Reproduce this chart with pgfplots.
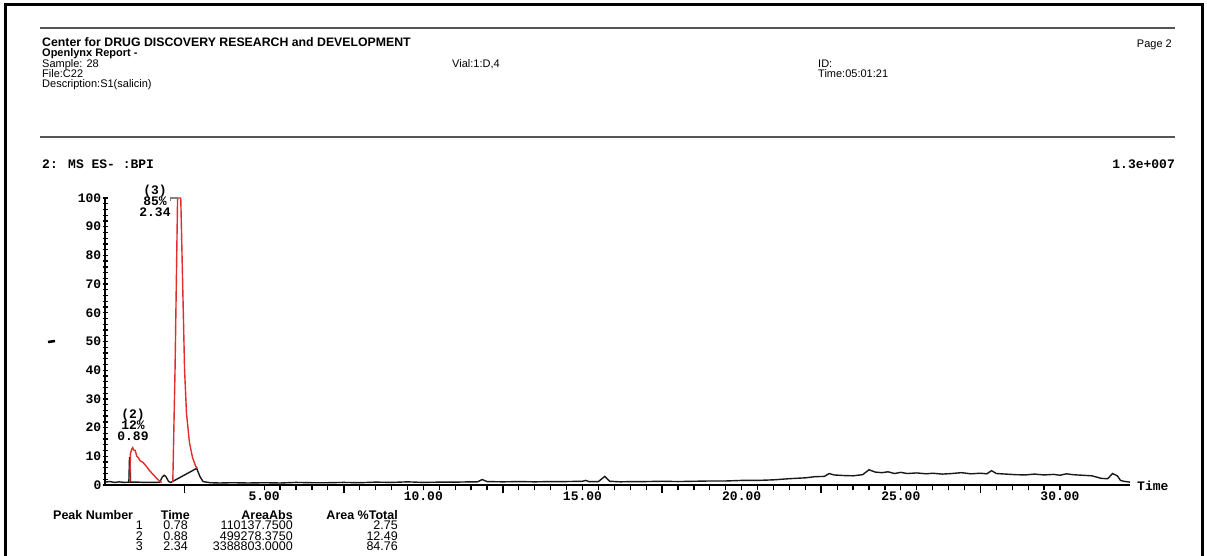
\documentclass[border=0pt]{standalone}
\usepackage{pgfplots}
\pgfplotsset{compat=1.18}
\usepackage{fontspec}
\setmainfont{Liberation Sans}
\newfontfamily\mono{Liberation Mono}
\definecolor{trace}{RGB}{25,25,25}
\definecolor{peakred}{RGB}{225,45,45}
\definecolor{rulegray}{RGB}{85,85,85}
\newcommand\mfont{\mono\bfseries\fontsize{13}{12}\selectfont}
\newcommand\hfont{\fontsize{11}{11}\selectfont}
\newcommand\tfont{\fontsize{12.5}{12}\selectfont}
\newcommand\tbfont{\bfseries\fontsize{12.5}{12}\selectfont}
\begin{document}
\begin{tikzpicture}
\path[use as bounding box] (0,0) rectangle (1207pt,-556pt);
\fill[white] (0,0) rectangle (1207pt,-556pt);
\draw[line width=3pt] (5pt,-556pt) -- (5pt,-5pt) -- (1202pt,-5pt) -- (1202pt,-556pt);
\draw[rulegray, line width=1.5pt] (40pt,-28pt) -- (1175pt,-28pt);
\draw[rulegray, line width=1.5pt] (40pt,-137pt) -- (1175pt,-137pt);
% header
\node[anchor=base west, inner sep=0, font=\bfseries\fontsize{12.3}{12}\selectfont] at (42pt,-46.5pt) {Center for DRUG DISCOVERY RESEARCH and DEVELOPMENT};
\node[anchor=base west, inner sep=0, font=\bfseries\hfont] at (42pt,-57pt) {Openlynx Report -};
\node[anchor=base west, inner sep=0, font=\hfont] at (42pt,-68pt) {Sample: 28};
\node[anchor=base west, inner sep=0, font=\hfont] at (42pt,-78pt) {File:C22};
\node[anchor=base west, inner sep=0, font=\hfont] at (42pt,-88pt) {Description:S1(salicin)};
\node[anchor=base west, inner sep=0, font=\hfont] at (452pt,-68pt) {Vial:1:D,4};
\node[anchor=base west, inner sep=0, font=\hfont] at (818pt,-68pt) {ID:};
\node[anchor=base west, inner sep=0, font=\hfont] at (818pt,-78pt) {Time:05:01:21};
\node[anchor=base east, inner sep=0, font=\hfont] at (1172pt,-48pt) {Page 2};
% chart header
\node[anchor=base west, inner sep=0, font=\mfont] at (42pt,-168.7pt) {2: MS ES- :BPI};
\node[anchor=base east, inner sep=0, font=\mfont] at (1175pt,-168.7pt) {1.3e+007};
\draw[line width=2.5pt] (48pt,-342pt) -- (55pt,-341pt);
\begin{axis}[
  at={(105pt,-485pt)}, anchor=south west,
  scale only axis, width=1025pt, height=287pt,
  xmin=0, xmax=32.2, ymin=0, ymax=100,
  clip=false,
  axis lines=left,
  axis line style={-, line width=1.8pt, black},
  /pgf/number format/assume math mode=true,
  xtick={5,10,15,20,25,30},
  xticklabels={5.00,10.00,15.00,20.00,25.00,30.00},
  minor x tick num=9,
  extra x ticks={2.5,7.5,12.5,17.5,22.5,27.5},
  extra x tick labels={},
  extra x tick style={x tick style={line width=1.8pt}, tick align=outside, major tick length=8pt},
  x tick style={line width=1.3pt, black},
  xtick align=outside,
  ytick={0,10,...,100},
  yticklabels={0,10,20,30,40,50,60,70,80,90,100},
  minor y tick num=4,
  y tick style={line width=1.3pt, black},
  ytick align=center,
  major tick length=5pt,
  minor tick length=5pt,
  tick label style={font=\mfont},
  yticklabel style={inner sep=1pt},
  xticklabel style={inner sep=2pt},
]
\addplot[trace, line width=1.4pt] coordinates {
(0,1.0)(0.15,1.2)(0.3,0.9)(0.45,1.1)(0.6,0.9)(0.75,1.0)(0.77,9.5)(0.79,9.5)(0.80,1.0)
(1.0,1.0)(1.3,0.9)(1.6,0.9)(1.72,1.0)(1.80,2.8)(1.86,3.4)(1.92,2.8)(2.0,1.2)(2.07,0.9)
(2.88,5.8)(2.98,3.0)(3.08,1.2)(3.3,0.8)(3.6,0.7)(4,0.8)(4.5,0.7)(5,0.8)(5.5,0.7)(6,0.9)
(6.5,0.8)(7,0.8)(7.5,0.9)(8,0.8)(8.5,1.0)(9,0.9)(9.5,1.1)(10,0.9)(10.5,1.0)(11,1.0)
(11.5,1.1)(11.7,1.1)(11.85,1.9)(12.0,1.2)(12.5,1.1)(13,1.2)(13.5,1.1)(14,1.2)(14.5,1.2)
(15,1.3)(15.1,1.6)(15.2,1.2)(15.5,1.2)(15.7,3.0)(15.85,1.3)(16.2,1.1)(16.5,1.2)(17,1.2)
(17.5,1.3)(18,1.2)(18.5,1.3)(19,1.4)(19.5,1.4)(20,1.6)(20.5,1.6)(21,1.8)(21.5,2.2)
(22,2.5)(22.3,2.9)(22.6,3.0)(22.75,4.0)(22.9,3.5)(23.2,3.3)(23.5,3.2)(23.8,3.6)(24.0,5.3)
(24.2,4.5)(24.4,4.3)(24.6,4.6)(24.8,4.0)(25.0,4.4)(25.2,4.0)(25.5,4.2)(25.8,3.9)(26.0,4.1)
(26.3,3.8)(26.6,4.0)(26.9,4.3)(27.2,3.9)(27.5,4.1)(27.7,3.9)(27.85,5.0)(28.0,4.0)(28.3,3.8)
(28.6,3.6)(28.9,3.5)(29.2,3.8)(29.5,3.5)(29.8,3.7)(30.0,3.4)(30.2,3.9)(30.4,3.6)(30.7,3.4)
(31.0,3.2)(31.3,2.3)(31.5,2.2)(31.65,4.0)(31.8,3.2)(31.9,1.6)(32.0,1.3)(32.2,1.0)
};
\addplot[peakred, line width=1.4pt] coordinates {
(0.78,1)(0.80,11)(0.84,12.5)(0.87,13)(0.9,12.2)(0.95,12)(1.0,10)(1.05,9.5)(1.1,8.5)
(1.2,7.8)(1.3,6.5)(1.4,5)(1.5,3.8)(1.6,2.6)(1.7,1.5)(1.78,0.9)
};
\addplot[peakred, line width=1.4pt] coordinates {
(2.13,1)(2.2,40)(2.28,100)(2.38,100)(2.44,70)(2.5,40)(2.56,25)(2.65,15)(2.75,9.5)(2.85,6.5)(2.9,5.8)
};
\addplot[gray, line width=1.2pt] coordinates {(2.05,99)(2.05,100)(2.3,100)};
\end{axis}
\node[anchor=west, inner sep=0, font=\mfont] at (1137pt,-486pt) {Time};
% annotations
\node[anchor=base, inner sep=0, font=\mfont] at (155pt,-194.7pt) {(3)};
\node[anchor=base, inner sep=0, font=\mfont] at (155pt,-205.7pt) {85\%};
\node[anchor=base, inner sep=0, font=\mfont] at (155pt,-216.7pt) {2.34};
\node[anchor=base, inner sep=0, font=\mfont] at (133pt,-418.7pt) {(2)};
\node[anchor=base, inner sep=0, font=\mfont] at (133pt,-429.7pt) {12\%};
\node[anchor=base, inner sep=0, font=\mfont] at (133pt,-440.7pt) {0.89};
% table
\node[anchor=base west, inner sep=0, font=\tbfont] at (53pt,-519pt) {Peak Number};
\node[anchor=base east, inner sep=0, font=\tbfont] at (190pt,-519pt) {Time};
\node[anchor=base east, inner sep=0, font=\tbfont] at (293pt,-519pt) {AreaAbs};
\node[anchor=base east, inner sep=0, font=\tbfont] at (398pt,-519pt) {Area \%Total};
\foreach \n/\t/\a/\p/\yy in {1/0.78/110137.7500/2.75/529.5, 2/0.88/499278.3750/12.49/540, 3/2.34/3388803.0000/84.76/550.5}{
  \node[anchor=base east, inner sep=0, font=\tfont] at (143pt,-\yy pt) {\n};
  \node[anchor=base east, inner sep=0, font=\tfont] at (188pt,-\yy pt) {\t};
  \node[anchor=base east, inner sep=0, font=\tfont] at (293pt,-\yy pt) {\a};
  \node[anchor=base east, inner sep=0, font=\tfont] at (398pt,-\yy pt) {\p};
}
\end{tikzpicture}
\end{document}
